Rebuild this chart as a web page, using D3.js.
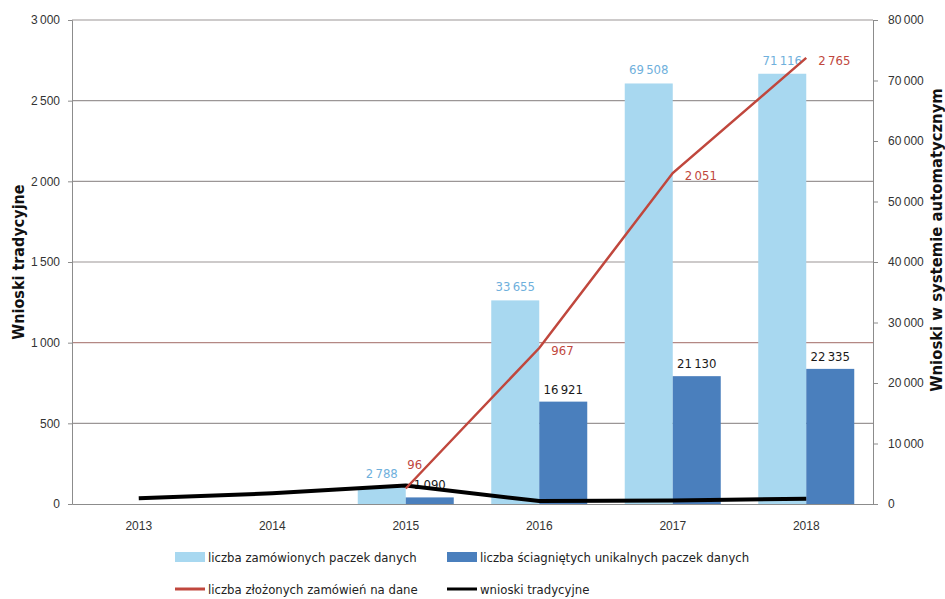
<!DOCTYPE html>
<html lang="pl">
<head>
<meta charset="utf-8">
<script src="https://cdn.jsdelivr.net/npm/d3@7"></script>
<style>
  html, body { margin: 0; padding: 0; background: #fff; }
  svg { display: block; font-family: "DejaVu Sans Condensed", "Liberation Sans", Arial, sans-serif; }
</style>
</head>
<body>
<svg id="chart" width="945" height="599"></svg>
<script>
// Years on the category axis
const years = ["2013", "2014", "2015", "2016", "2017", "2018"];

// Automatic system (right axis): ordered data packages and unique downloaded packages
const orderedPackages = [null, null, 2788, 33655, 69508, 71116];
const downloadedPackages = [null, null, 1090, 16921, 21130, 22335];

// Left axis: number of submitted data orders and traditional requests
const submittedOrders = [null, null, 96, 967, 2051, 2765];
const traditionalRequests = [35, 66, 115, 18, 22, 32];

// Tick values
const leftTicks = [0, 500, 1000, 1500, 2000, 2500, 3000];
const rightTicks = [0, 10000, 20000, 30000, 40000, 50000, 60000, 70000, 80000];

const fmt = v => d3.format(",")(v).replace(/,/g, "\u2009");

const svg = d3.select("#chart");
const m = { left: 72, right: 873, top: 20, bottom: 504 };

const x = d3.scaleBand().domain(years).range([m.left, m.right]);
const yL = d3.scaleLinear().domain([0, 3000]).range([m.bottom, m.top]);
const yR = d3.scaleLinear().domain([0, 80000]).range([m.bottom, m.top]);
const cx = d => x(d) + x.bandwidth() / 2;
const barW = 48;

// Horizontal gridlines at the left-axis ticks
svg.append("g").selectAll("line")
  .data(leftTicks.filter(t => t > 0))
  .join("line")
  .attr("x1", m.left).attr("x2", m.right)
  .attr("y1", d => yL(d)).attr("y2", d => yL(d))
  .attr("stroke", d => d === 1000 ? "#b48884" : "#9b9696")
  .attr("stroke-width", 1.2);

// Left axis
const gL = svg.append("g").attr("transform", `translate(${m.left},0)`)
  .call(d3.axisLeft(yL).tickValues(leftTicks).tickFormat(fmt).tickSize(4).tickPadding(8));
gL.select(".domain").attr("stroke", "#8c8c8c");
gL.selectAll(".tick line").attr("stroke", "#8c8c8c");
gL.selectAll(".tick text").attr("fill", "#333").style("font-size", "12px")
  .style("font-family", "inherit");

// Right axis
const gR = svg.append("g").attr("transform", `translate(${m.right},0)`)
  .call(d3.axisRight(yR).tickValues(rightTicks).tickFormat(fmt).tickSize(5).tickPadding(10));
gR.select(".domain").attr("stroke", "#8c8c8c");
gR.selectAll(".tick line").attr("stroke", "#8c8c8c");
gR.selectAll(".tick text").attr("fill", "#333").style("font-size", "12px")
  .style("font-family", "inherit");

// Bottom axis
const gB = svg.append("g").attr("transform", `translate(0,${m.bottom})`)
  .call(d3.axisBottom(x).tickSize(0).tickPadding(17));
gB.select(".domain").attr("stroke", "#8c8c8c").attr("stroke-width", 1.2);
gB.selectAll(".tick text").attr("fill", "#333").style("font-size", "12px")
  .style("font-family", "inherit");

// Bars
const barData = years.map((yr, i) => ({ yr, a: orderedPackages[i], b: downloadedPackages[i] }));
const bars = svg.append("g");
bars.selectAll("rect.a").data(barData.filter(d => d.a != null)).join("rect")
  .attr("class", "a")
  .attr("x", d => cx(d.yr) - barW).attr("width", barW)
  .attr("y", d => yR(d.a)).attr("height", d => yR(0) - yR(d.a))
  .attr("fill", "#a8d8f0");
bars.selectAll("rect.b").data(barData.filter(d => d.b != null)).join("rect")
  .attr("class", "b")
  .attr("x", d => cx(d.yr)).attr("width", barW)
  .attr("y", d => yR(d.b)).attr("height", d => yR(0) - yR(d.b))
  .attr("fill", "#4a7fbd");

// Bar value labels
const lab = svg.append("g").style("font-size", "13px");
lab.selectAll("text.a").data(barData.filter(d => d.a != null)).join("text")
  .attr("x", d => cx(d.yr) - barW / 2).attr("y", d => yR(d.a) - 9)
  .attr("text-anchor", "middle").attr("fill", "#6fb0dc")
  .text(d => fmt(d.a));
lab.selectAll("text.b").data(barData.filter(d => d.b != null)).join("text")
  .attr("x", d => cx(d.yr) + barW / 2).attr("y", d => yR(d.b) - 8)
  .attr("text-anchor", "middle").attr("fill", "#1a1a1a")
  .text(d => fmt(d.b));

// Black line: traditional requests
const lineL = d3.line().x(d => cx(d.yr)).y(d => yL(d.v));
svg.append("path")
  .datum(years.map((yr, i) => ({ yr, v: traditionalRequests[i] })))
  .attr("d", lineL).attr("fill", "none")
  .attr("stroke", "#000").attr("stroke-width", 4).attr("stroke-linejoin", "round");

// Red line: submitted data orders
const ordersData = years.map((yr, i) => ({ yr, v: submittedOrders[i] })).filter(d => d.v != null);
svg.append("path")
  .datum(ordersData)
  .attr("d", lineL).attr("fill", "none")
  .attr("stroke", "#c0473d").attr("stroke-width", 2.5);

const redLab = svg.append("g").style("font-size", "13px").attr("fill", "#c0473d");
redLab.selectAll("text").data(ordersData).join("text")
  .attr("x", (d, i) => i === 0 ? cx(d.yr) + 9 : cx(d.yr) + 12)
  .attr("y", (d, i) => i === 0 ? yL(d.v) - 20 : yL(d.v) + 7)
  .attr("text-anchor", (d, i) => i === 0 ? "middle" : "start")
  .text(d => fmt(d.v));

// Axis titles
svg.append("text")
  .attr("transform", "translate(24,262) rotate(-90)")
  .attr("text-anchor", "middle").attr("font-weight", "bold")
  .style("font-size", "16px").attr("fill", "#111")
  .text("Wnioski tradycyjne");
svg.append("text")
  .attr("transform", "translate(942,240) rotate(-90)")
  .attr("text-anchor", "middle").attr("font-weight", "bold")
  .style("font-size", "16.5px").attr("fill", "#111")
  .text("Wnioski w systemie automatycznym");

// Legend
const legendItems = [
  { label: "liczba zamówionych paczek danych", type: "rect", color: "#a8d8f0", x: 175, y: 557 },
  { label: "liczba ściagniętych unikalnych paczek danych", type: "rect", color: "#4a7fbd", x: 447, y: 557 },
  { label: "liczba złożonych zamówień na dane", type: "line", color: "#c0473d", x: 175, y: 589 },
  { label: "wnioski tradycyjne", type: "line", color: "#000", x: 447, y: 589 }
];
const lg = svg.append("g").selectAll("g").data(legendItems).join("g")
  .attr("transform", d => `translate(${d.x},${d.y})`);
lg.filter(d => d.type === "rect").append("rect")
  .attr("x", 0).attr("y", -5).attr("width", 30).attr("height", 10).attr("fill", d => d.color);
lg.filter(d => d.type === "line").append("line")
  .attr("x1", 0).attr("x2", 30).attr("y1", 0).attr("y2", 0)
  .attr("stroke", d => d.color).attr("stroke-width", 3);
lg.append("text").attr("x", 33).attr("y", 5)
  .style("font-size", "13px").attr("fill", "#222")
  .text(d => d.label);
</script>
</body>
</html>
